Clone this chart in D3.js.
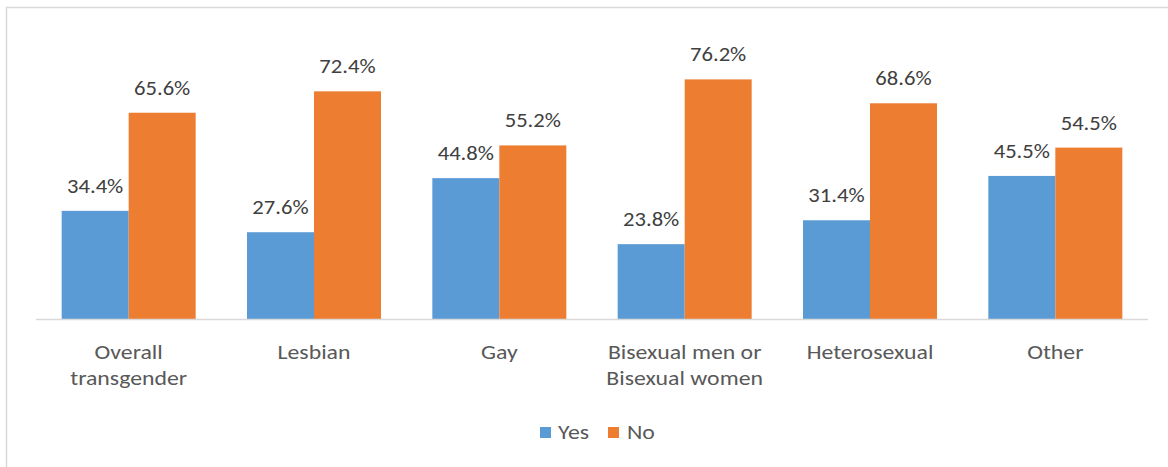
<!DOCTYPE html>
<html>
<head>
<meta charset="utf-8">
<script src="https://cdn.jsdelivr.net/npm/d3@7"></script>
<style>
  html, body { margin: 0; padding: 0; background: #fff; }
  svg { display: block; }
  text { font-family: Calibri, Carlito, Lato, "Open Sans", sans-serif; fill: #595959; }
</style>
</head>
<body>
<svg id="chart" width="1168" height="467"></svg>
<script>
// Categories (each label may wrap onto two lines)
const categories = [
  ["Overall", "transgender"],
  ["Lesbian"],
  ["Gay"],
  ["Bisexual men or", "Bisexual women"],
  ["Heterosexual"],
  ["Other"]
];
const seriesNames = ["Yes", "No"];
const seriesColors = ["#5B9BD5", "#ED7D31"];
const yesValues = [34.4, 27.6, 44.8, 23.8, 31.4, 45.5];
const noValues = [65.6, 72.4, 55.2, 76.2, 68.6, 54.5];

const svg = d3.select("#chart");
const FONT = 19.5;
const VAL_STRETCH = 1.16;   // horizontal stretch of data labels
const CAT_STRETCH = 1.22;   // horizontal stretch of axis / legend text

// Chart-area frame
svg.append("rect")
  .attr("x", 6.5).attr("y", 7.5)
  .attr("width", 1200).attr("height", 500)
  .attr("fill", "#fff")
  .attr("stroke", "#D9D9D9").attr("stroke-width", 1.5);

const plot = { left: 36, right: 1148, top: 36, bottom: 319 };
const catKeys = categories.map((c, i) => i);

const x0 = d3.scaleBand()
  .domain(catKeys)
  .range([plot.left, plot.right])
  .paddingInner(0.277)
  .paddingOuter(0.1385);

const x1 = d3.scaleBand()
  .domain(seriesNames)
  .range([0, x0.bandwidth()]);

const y = d3.scaleLinear()
  .domain([0, 90])
  .range([plot.bottom, plot.top]);

const rows = catKeys.map(i => ({
  i,
  values: [
    { s: "Yes", v: yesValues[i] },
    { s: "No", v: noValues[i] }
  ]
}));

const groups = svg.append("g").selectAll("g")
  .data(rows).join("g")
  .attr("transform", d => `translate(${x0(d.i)},0)`);

groups.selectAll("rect")
  .data(d => d.values).join("rect")
  .attr("x", d => x1(d.s))
  .attr("y", d => y(d.v))
  .attr("width", x1.bandwidth())
  .attr("height", d => y(0) - y(d.v))
  .attr("fill", d => seriesColors[seriesNames.indexOf(d.s)]);

groups.selectAll("text.val")
  .data(d => d.values).join("text")
  .attr("class", "val")
  .attr("transform", d =>
    `translate(${x1(d.s) + x1.bandwidth() / 2},${y(d.v) - 18}) scale(${VAL_STRETCH},1)`)
  .attr("text-anchor", "middle")
  .attr("font-size", FONT)
  .style("fill", "#404040")
  .text(d => d.v.toFixed(1) + "%");

// Baseline axis
svg.append("line")
  .attr("x1", plot.left).attr("x2", plot.right)
  .attr("y1", y(0) + 0.5).attr("y2", y(0) + 0.5)
  .attr("stroke", "#D9D9D9").attr("stroke-width", 1.5);

// Category labels
const catLabels = svg.append("g").selectAll("text")
  .data(rows).join("text")
  .attr("text-anchor", "middle")
  .attr("font-size", FONT)
  .attr("transform", d =>
    `translate(${x0(d.i) + x0.bandwidth() / 2},359) scale(${CAT_STRETCH},1)`);
catLabels.selectAll("tspan")
  .data(d => categories[d.i].map((line, k) => ({ line, k })))
  .join("tspan")
  .attr("x", 0)
  .attr("dy", d => d.k === 0 ? 0 : 26)
  .text(d => d.line);

// Legend
const legendItems = [
  { name: "Yes", color: seriesColors[0], sx: 540, tx: 558 },
  { name: "No", color: seriesColors[1], sx: 608, tx: 627 }
];
const legend = svg.append("g");
legend.selectAll("rect").data(legendItems).join("rect")
  .attr("x", d => d.sx).attr("y", 427)
  .attr("width", 11).attr("height", 11)
  .attr("fill", d => d.color);
legend.selectAll("text").data(legendItems).join("text")
  .attr("transform", d => `translate(${d.tx},439) scale(${CAT_STRETCH},1)`)
  .attr("font-size", FONT)
  .text(d => d.name);
</script>
</body>
</html>
